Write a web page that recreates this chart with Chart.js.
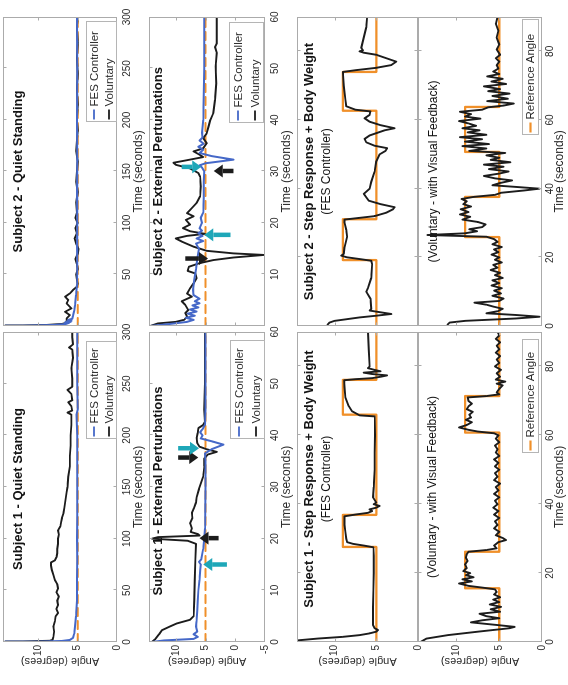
<!DOCTYPE html>
<html>
<head>
<meta charset="utf-8">
<script src="https://cdn.jsdelivr.net/npm/chart.js@4.4.1/dist/chart.umd.min.js"></script>
<style>
  html, body { margin: 0; padding: 0; background: #fff; overflow: hidden; width: 568px; height: 685px; }
  /* the figure is laid out landscape and turned a quarter turn counter-clockwise */
  #sheet { position: absolute; left: 0; top: 0; width: 685px; height: 568px;
           transform-origin: 0 0; transform: translate(0px, 685px) rotate(-90deg); }
  #sheet canvas { position: absolute; }
</style>
</head>
<body>
<div id="sheet"></div>
<script>
// ---------------- data: time (s) and ankle angle (degrees) ----------------

// Subject 1 - quiet standing
const s1QuietVolT = [0,0.5,1.2,2,5,10,15,20,25,28,32,36,40,44,48,52,56,60,65,70,74,77,79,82,86,90,95,100,104,108,112,116,120,125,130,135,140,145,150,160,170,180,190,200,210,220,222,224,228,232,234,240,244,247,255,265,275,283,285,288,295,300];
const s1QuietVol  = [14.2,12,8.6,8.2,8.1,8.0,8.1,7.9,7.8,7.5,7.7,7.5,7.6,7.4,7.7,7.5,7.6,7.9,8.1,8.3,8.4,8.4,7.9,7.7,7.6,7.6,7.5,7.5,7.4,7.5,7.2,7.1,7.0,6.8,6.7,6.6,6.5,6.4,6.3,6.2,6.0,6.0,5.9,5.9,5.8,5.8,6.3,5.7,5.8,6.2,5.7,5.8,6.3,5.7,5.7,5.8,5.6,5.7,6.1,5.6,5.7,5.7];
const s1QuietFesT = [0,0.4,1,2,4,8,15,25,40,60,80,100,120,150,180,200,220,225,250,275,300];
const s1QuietFes  = [14.2,10,7,6.0,5.6,5.45,5.35,5.2,5.1,5.1,5.05,5.1,5.05,5.05,5.05,5.05,5.15,5.0,5.05,5.05,5.05];

// Subject 2 - quiet standing
const s2QuietVolT = [0,0.5,1,2,3,5,7.4,10.6,13.8,17.1,21.9,25.2,28.4,31.6,34.9,38.1,41,45,50,55,60,65,70,75,80,85,90,95,100,105,110,120,130,140,150,160,170,180,190,200,215,230,245,260,275,290,300];
const s2QuietVol  = [14.2,12,9,7.0,6.5,6.4,6.4,6.0,6.6,5.8,6.4,6.2,6.6,6.0,5.6,5.1,5.0,5.1,5.2,5.0,5.1,5.3,5.0,4.9,5.2,5.4,5.1,5.3,5.0,5.3,5.1,5.2,5.0,5.2,5.1,5.0,5.2,5.1,5.0,5.1,5.0,5.1,5.0,5.1,5.0,5.1,5.0];
const s2QuietFesT = [0,0.3,1,2,3,3.5,4,4.5,5,6,7,10,15,20,30,40,60,80,100,130,160,200,250,300];
const s2QuietFes  = [14.2,12,8,6.5,6.1,6.6,5.9,6.4,5.8,6.2,5.7,5.6,5.45,5.35,5.2,5.1,5.05,5.1,5.05,5.1,5.05,5.1,5.05,5.1];

// Subject 1 - external perturbations
const s1ExtVolT = [0,0.5,1.5,2.3,3,3.6,4.3,5,8,12,16,19,19.6,20,20.3,20.6,20.9,21.3,22,23,24,25,26,27,28,29.6,31,32,34,35.5,36.3,36.8,37.3,37.8,38.5,39.5,40.5,41.4,42,42.6,45,50,55,60];
const s1ExtVol  = [14.0,13.5,12.8,12.3,11,9.8,7.6,7.0,6.9,6.8,6.7,6.6,8,14.0,13,6,6.3,7.5,7.3,7.6,7.2,7.3,6.9,6.6,6.5,6.1,5.7,5.4,5.2,5.2,4.6,3.1,4.8,6.0,6.4,6.5,6.3,6.2,5.4,5.1,5.2,5.1,5.1,5.1];
const s1ExtFesT = [0,0.3,0.6,1,1.5,2,3,4,6,8,10,12,14,15,15.5,16,18,20,22,25,30,35,36.5,37.3,38.2,38.8,39.4,40,40.6,41.2,42,45,50,60];
const s1ExtFes  = [14.0,12,7,6.3,7.0,6.4,6.6,6.5,6.4,6.3,6.2,6.0,5.9,5.8,6.1,5.7,5.4,5.2,5.1,5.05,5.0,5.0,5.1,4.0,2.0,3.8,5.8,5.5,5.9,5.5,5.1,5.0,5.0,5.0];

// Subject 2 - external perturbations
const s2ExtVolT = [0,0.5,0.8,1.2,1.8,2.5,3.1,4.1,4.8,5.7,6.3,7.3,8.3,9.3,10.2,10.7,11.5,12.2,12.8,13.3,13.8,14.1,14.6,15.4,16.4,17.0,17.5,17.9,18.4,19.0,19.7,20.6,21.3,21.9,22.9,23.9,25.2,27.1,29.0,29.7,30.6,31.3,31.7,32.2,32.8,33.2,33.9,34.5,35.5,36.5,37.4,38.7,40.0,41.3,43.9,47.1,50.4,53.0,54.2,54.9,56.8,60];
const s2ExtVol  = [14.3,13.0,10,8.6,8.1,8.4,7.9,8.4,9.0,7.3,8.1,7.6,7.0,6.5,6.7,8.0,7.8,6.0,3.7,0.3,-4.8,0.3,4.8,7.0,9.0,10.0,8.1,5.1,7.6,8.8,7.6,8.3,7.0,8.1,7.3,6.5,5.9,5.8,5.9,6.2,7.6,10.0,10.4,8.1,5.4,5.9,7.0,5.4,4.8,5.4,4.8,4.5,4.2,3.7,3.4,3.2,3.3,3.1,3.4,3.1,3.1,3.1];
const s2ExtFesT = [0,0.4,0.8,1.2,1.6,2.0,2.4,2.8,3.2,3.6,4.0,4.4,4.8,5.3,6,7,9,11,13,15,16,16.5,17,17.5,18,18.5,19,20,21,22,25,28,30,30.8,31.2,31.6,32.3,33.0,33.6,34.2,34.8,35.4,36.0,36.6,37.5,40,45,50,55,60];
const s2ExtFes  = [14.3,11,8.1,7.0,8.3,6.8,8.0,6.5,7.6,6.2,7.2,6.0,6.8,6.0,7.0,7.1,6.9,6.6,6.4,6.1,6.6,5.4,6.5,5.5,6.2,5.6,6.0,5.6,5.8,5.4,5.3,5.3,5.2,5.6,6.0,5.0,0.3,4.0,6.0,5.4,6.2,5.3,6.0,5.5,5.6,5.4,5.3,5.2,5.2,5.2];

// constant 5 degree reference used during standing trials
const quietRefT = [0, 300];
const extRefT   = [0, 60];
const standRef  = [5, 5];

// Subject 1 - step response, FES controller
const s1FesStepT = [0,0.5,1,1.5,2,2.5,3,3.5,4,5,10,15,20,25,27.5,28,28.5,29,30,32,34,36.5,37,37.5,38,38.5,39,39.5,40,40.5,42,45,50,55,60,65.5,65.8,67,68.5,71,74,76,76.3,76.6,77,77.4,77.8,78.2,78.6,79,79.5,80,85,90];
const s1FesStep  = [14.4,14.3,12,9,7,5.8,5.0,4.8,5.2,5.4,5.4,5.35,5.3,5.3,5.35,6.5,7.8,8.5,8.6,8.7,8.8,8.8,7.5,6,5.5,5.8,5.0,4.6,5.3,5.0,5.4,5.3,5.2,5.2,5.15,5.2,7.0,7.9,8.3,8.7,8.8,8.85,7.5,5.5,4.5,3.7,5.5,6.5,4.5,5.2,6.0,5.8,5.9,6.0];
const s1FesRefT  = [0,27.6,36.9,66.0,76.1,90];
const s1FesRef   = [5,9,5,9,5,5];

// Subject 1 - step response, voluntary with visual feedback
const s1VolStepT = [0,1,2,3,4,4.4,5,5.7,6.3,6.9,7.5,8.2,8.8,9.5,10.2,10.9,11.6,12.3,13,13.8,14.5,15.3,15.8,16.3,17.0,17.6,18.2,18.8,19.4,20,20.6,21.5,22.5,23.5,24.5,25.5,26.2,26.7,27.2,28,29,29.6,30.2,31,32,33,34,35,36,37,38,39,40,41,42,43,44,45,46,47,48,49,50,51,52,53,54,55,56,57,58,59,60,60.6,61.1,61.6,62.3,63,63.8,64.5,65.2,66,66.8,67.6,68.4,69.2,70,71,71.4,71.9,72.5,73.5,74.5,75,75.6,76.2,77,78,79,80,81,82,83,84,85,86,87,88,89,90];
const s1VolStep  = [14.2,13.5,11.0,7.5,3.8,3.2,5.5,8.3,7.0,5.0,6.5,7.3,4.9,6.0,4.8,6.1,5.0,5.7,4.9,5.6,5.3,5.5,7.0,8.6,9.7,8.2,9.3,8.0,8.9,8.4,9.2,8.8,9.0,8.7,8.9,8.8,8.6,6.5,5.3,5.6,5.1,4.2,4.6,5.4,5.0,5.6,5.2,5.5,5.0,5.6,5.1,5.7,5.2,5.5,5.0,5.6,5.1,5.4,4.9,5.6,5.2,5.5,5.0,5.5,5.1,5.6,5.0,5.4,5.2,5.5,5.0,5.4,5.1,5.6,7.5,8.6,9.7,8.8,8.2,8.9,8.3,8.5,8.1,8.8,8.6,8.2,8.6,8.7,6.5,5.0,5.3,5.0,4.6,5.3,4.3,5.4,4.9,5.3,4.8,5.5,5.0,5.3,4.9,5.4,5.0,5.3,4.9,5.4,5.0,5.2];
const s1VolRefT  = [0,15.6,26.2,60.8,71.4,90];
const s1VolRef   = [5,9,5,9,5,5];

// Subject 2 - step response, FES controller
const s2FesStepT = [0,0.5,1,1.5,2,2.5,3,3.5,4,4.5,5,8,10,11,14,18,19,19.5,20,20.5,21,23,26,28,30,31,31.5,32,33,34,34.6,35.5,36.5,37.5,38.5,40,42,45,48,50,51,51.8,52.5,53.5,54.5,55.5,57,57.6,58.5,59.5,60.5,61.5,62.5,63,64,66,70,74,74.5,75.2,76,77,78,79,79.6,80,80.3,81,84,87,90];
const s2FesStep  = [10.9,10.8,10.6,10.0,8.5,7.0,5.0,3.2,4.5,5.8,5.6,5.7,6.2,6.0,5.6,5.5,5.6,7.0,8.5,9.2,8.9,8.8,8.5,8.6,8.8,8.8,7.0,5.2,3.8,3.0,2.8,4.5,5.9,6.2,6.5,5.8,5.6,5.2,5.0,4.6,3.9,3.7,5.2,6.2,6.4,5.8,4.0,2.8,4.5,5.8,6.4,5.8,5.7,7.5,8.6,8.7,8.9,9.0,7.5,5.0,3.2,2.6,3.8,5.0,6.5,7.0,6.6,6.8,6.5,6.2,6.1];
const s2FesRefT  = [0,19.2,31.1,62.7,74.0,90];
const s2FesRef   = [5,9,5,9,5,5];

// Subject 2 - step response, voluntary with visual feedback
const s2VolStepT = [0,0.5,1,1.5,2.2,2.7,3.2,3.7,4.3,5,5.6,6.2,6.8,7.3,8,8.8,9.5,10.3,11,11.8,12.5,13.3,14,14.8,15.5,16.3,17,17.8,18.5,19.3,20,20.8,21.5,22.3,23,23.8,24.5,25.3,26,26.5,27,27.6,28.2,28.8,29.6,30.3,31,31.8,32.5,33.2,34,34.8,35.5,36.3,37,37.6,38.2,38.8,39.5,40,40.5,41,41.6,42.4,43,43.7,44.4,45,45.7,46.4,47,47.7,48.4,49,49.7,50.4,51,51.7,52.4,53,53.7,54.4,55,55.7,56.4,57,57.6,58.3,59,59.7,60.4,61,61.7,62.4,63,63.7,64.2,64.8,65.5,66.2,67,67.7,68.4,69,69.8,70.5,71.2,72,72.7,73.4,74.1,75,76,77,78,79,80.5,82,84,86,88,90];
const s2VolStep  = [11.1,11.0,10.8,9.0,3.0,0.3,3.0,6.5,5.2,4.6,5.6,6.5,7.9,5.0,4.5,5.8,4.8,5.6,4.7,5.9,5.0,5.8,4.6,5.5,4.9,6.0,5.2,5.7,4.7,5.5,5.0,5.9,5.1,5.6,4.7,5.8,5.2,5.6,6.5,13.4,9.0,7.6,8.5,7.0,6.6,7.5,9.3,8.4,9.6,8.6,9.5,8.3,9.2,8.8,9.4,8.0,5.5,4.8,2.0,0.3,3.0,5.8,5.0,3.5,5.5,6.8,5.0,3.9,6.2,4.5,6.8,3.7,6.0,5.0,6.5,4.3,8.5,6.5,9.3,6.2,9.0,7.0,9.6,6.5,8.7,7.3,9.3,7.7,8.6,9.7,7.2,9.0,8.3,9.6,7.0,6.3,4.5,3.3,6.4,4.0,5.8,3.8,6.3,4.9,6.8,4.2,5.9,4.6,6.4,5.0,5.7,5.1,5.3,5.0,5.4,4.9,5.3,5.0,5.3,5.1,5.4,5.2];
const s2VolRefT  = [0,25.9,37.6,50.7,63.8,90];
const s2VolRef   = [5,9,5,9,5,5];

// perturbation markers: time, tail angle, head angle
const s1ExtArrowT    = [15.0, 20.1, 35.7, 37.5];
const s1ExtArrowFrom = [1.4, 2.8, 9.6, 9.6];
const s1ExtArrowTo   = [5.4, 6.0, 6.2, 6.1];
const s1ExtArrowKind = ['cyan', 'black', 'black', 'cyan'];
const s2ExtArrowT    = [13.1, 17.7, 30.9, 30.1];
const s2ExtArrowFrom = [8.4, 0.8, 9.0, 0.3];
const s2ExtArrowTo   = [4.6, 5.2, 5.7, 3.6];
const s2ExtArrowKind = ['black', 'cyan', 'cyan', 'black'];

// axis ticks
const quietTimeTicks = [0, 50, 100, 150, 200, 250, 300];
const extTimeTicks   = [0, 10, 20, 30, 40, 50, 60];
const stepTimeTicks  = [0, 20, 40, 60, 80];
const angleTicks     = [-5, 0, 5, 10];

// ---------------- styling ----------------
const FONT = "'Liberation Sans', Arial, Helvetica, sans-serif";
Chart.defaults.font.family = FONT;
const COLORS = { fes: '#4568c8', vol: '#1c1c1c', ref: '#f0902a', cyan: '#1ea7b8', arrow: '#1c1c1c',
                 frame: '#ababab', text: '#2b2b2b' };

function pairs(ts, vs) { return ts.map((t, i) => ({ x: t, y: vs[i] })); }
const volLine  = (t, v) => ({ label: 'Voluntary', data: pairs(t, v), borderColor: COLORS.vol, borderWidth: 1.9, order: 2 });
const fesLine  = (t, v) => ({ label: 'FES Controller', data: pairs(t, v), borderColor: COLORS.fes, borderWidth: 2, order: 1 });
const refDash  = (t, v) => ({ label: 'Reference', data: pairs(t, v), borderColor: COLORS.ref, borderWidth: 2.1, borderDash: [8, 5], order: 3 });
const refSteps = (t, v) => ({ label: 'Reference Angle', data: pairs(t, v), borderColor: COLORS.ref, borderWidth: 2.3, stepped: true, order: 3 });

function arrows(ts, from, to, kind) {
  return ts.map((t, i) => ({ t, from: from[i], to: to[i], color: kind[i] === 'cyan' ? COLORS.cyan : COLORS.arrow }));
}

// frame, inward ticks, inset titles, legend boxes and arrow markers
function drawArrow(ctx, x0, y0, x1, y1, color) {
  const ang = Math.atan2(y1 - y0, x1 - x0);
  const headLen = 9, headHalf = 6.5;
  const bx = x1 - headLen * Math.cos(ang), by = y1 - headLen * Math.sin(ang);
  ctx.strokeStyle = color; ctx.fillStyle = color;
  ctx.lineWidth = 4.5; ctx.lineCap = 'butt'; ctx.setLineDash([]);
  ctx.beginPath(); ctx.moveTo(x0, y0); ctx.lineTo(bx, by); ctx.stroke();
  ctx.beginPath();
  ctx.moveTo(x1, y1);
  ctx.lineTo(bx + headHalf * Math.sin(ang), by - headHalf * Math.cos(ang));
  ctx.lineTo(bx - headHalf * Math.sin(ang), by + headHalf * Math.cos(ang));
  ctx.closePath(); ctx.fill();
}

const panelDecor = {
  id: 'panelDecor',
  afterDatasetsDraw(chart, args, opts) {
    const { ctx, chartArea: a, scales: { x, y } } = chart;
    ctx.save();
    (opts.arrows || []).forEach(ar => {
      const px = x.getPixelForValue(ar.t);
      drawArrow(ctx, px, y.getPixelForValue(ar.from), px, y.getPixelForValue(ar.to), ar.color);
    });

    // box and inward tick marks
    ctx.setLineDash([]);
    ctx.strokeStyle = COLORS.frame; ctx.lineWidth = 1;
    const L = Math.round(a.left) + 0.5, T = Math.round(a.top) + 0.5;
    const R = Math.round(a.right) - 0.5, B = Math.round(a.bottom) - 0.5;
    ctx.strokeRect(L, T, R - L, B - T);
    ctx.beginPath();
    x.ticks.forEach(tk => {
      const px = Math.round(x.getPixelForValue(tk.value)) + 0.5;
      if (px <= L + 1 || px >= R - 1) return;
      ctx.moveTo(px, B); ctx.lineTo(px, B - 3);
      ctx.moveTo(px, T); ctx.lineTo(px, T + 3);
    });
    y.ticks.forEach(tk => {
      const py = Math.round(y.getPixelForValue(tk.value)) + 0.5;
      if (py <= T + 1 || py >= B - 1) return;
      ctx.moveTo(L, py); ctx.lineTo(L + 3, py);
      ctx.moveTo(R, py); ctx.lineTo(R - 3, py);
    });
    ctx.stroke();

    // inset titles
    ctx.textAlign = 'center'; ctx.textBaseline = 'middle';
    (opts.texts || []).forEach(tx => {
      ctx.font = tx.font; ctx.fillStyle = '#141414';
      ctx.fillText(tx.text, (a.left + a.right) / 2 + (tx.dx || 0), a.top + tx.dy);
    });

    // legend box
    const lg = opts.legend;
    if (lg) {
      const bx = Math.round(a.right - lg.right - lg.w) + 0.5;
      const by = Math.round(a.bottom - lg.bottom - lg.h) + 0.5;
      ctx.fillStyle = '#fff';
      ctx.fillRect(bx, by, lg.w, lg.h);
      ctx.strokeStyle = '#b5b5b5'; ctx.lineWidth = 1;
      ctx.strokeRect(bx, by, lg.w, lg.h);
      const n = lg.items.length;
      ctx.textAlign = 'left'; ctx.textBaseline = 'middle';
      ctx.font = '11.5px ' + FONT;
      lg.items.forEach((it, i) => {
        const cy = by + lg.h * (2 * i + 1) / (2 * n);
        ctx.strokeStyle = it.color; ctx.lineWidth = it.width || 1.8;
        ctx.beginPath(); ctx.moveTo(bx + 2, cy); ctx.lineTo(bx + 12, cy); ctx.stroke();
        ctx.fillStyle = COLORS.text;
        ctx.fillText(it.label, bx + 15, cy + 0.5);
      });
    }
    ctx.restore();
  }
};

// ---------------- layout (landscape coordinates before the quarter turn) ----------------
const COLS = { s1: { left: 43, width: 310, pad: 43, axisTitle: true },
               s2: { left: 359, width: 309, pad: 10, axisTitle: false } };
const ROWS = {
  quiet: { top: 3,   height: 114, below: 34, yMin: 0,  yMax: 14.5, xMax: 300, ticks: quietTimeTicks, xLabels: true,  labelPad: 4, titleGap: 21.5 },
  ext:   { top: 149, height: 116, below: 34, yMin: -5, yMax: 14.5, xMax: 60,  ticks: extTimeTicks,   xLabels: true,  labelPad: 4, titleGap: 22 },
  fes:   { top: 297, height: 121, below: 14, yMin: 0,  yMax: 14.5, xMax: 90,  ticks: stepTimeTicks,  xLabels: false, labelPad: 4, titleGap: 0 },
  vol:   { top: 418, height: 124, below: 30, yMin: 0,  yMax: 14.5, xMax: 90,  ticks: stepTimeTicks,  xLabels: true,  labelPad: 2, titleGap: 18 }
};
const PAD_TOP = 14, PAD_RIGHT = 14;

const sheet = document.getElementById('sheet');

function panel(colKey, rowKey, datasets, decor, hideZeroTime) {
  const col = COLS[colKey], row = ROWS[rowKey];
  const W = col.pad + col.width + PAD_RIGHT;
  const H = PAD_TOP + row.height + row.below;
  const cv = document.createElement('canvas');
  cv.width = W; cv.height = H;
  cv.style.width = W + 'px'; cv.style.height = H + 'px';
  cv.style.left = (col.left - col.pad) + 'px';
  cv.style.top = (row.top - PAD_TOP) + 'px';
  sheet.appendChild(cv);

  const timeTicks = row.ticks, angles = angleTicks.filter(v => v >= row.yMin && v <= row.yMax);
  new Chart(cv, {
    type: 'line',
    data: { datasets },
    options: {
      responsive: false, animation: false, devicePixelRatio: 1,
      layout: { padding: { left: 0, right: PAD_RIGHT, top: PAD_TOP, bottom: 0 } },
      elements: { point: { radius: 0 }, line: { tension: 0, borderCapStyle: 'round', borderJoinStyle: 'round' } },
      plugins: { legend: { display: false }, tooltip: { enabled: false }, panelDecor: decor },
      scales: {
        x: {
          type: 'linear', position: 'bottom', min: 0, max: row.xMax,
          grid: { display: false, drawTicks: false }, border: { display: false },
          afterBuildTicks: s => { s.ticks = timeTicks.map(v => ({ value: v })); },
          ticks: {
            display: row.xLabels, autoSkip: false, maxRotation: 0, padding: row.labelPad,
            color: COLORS.text, font: { size: 10 },
            callback: v => (hideZeroTime && v === 0) ? '' : String(v)
          },
          title: {
            display: row.xLabels, text: 'Time (seconds)', color: COLORS.text, font: { size: 12 },
            padding: { top: 0, bottom: Math.max(0, row.below - row.titleGap - 7.2) }
          },
          afterFit: s => { s.height = row.below; }
        },
        y: {
          type: 'linear', position: 'left', min: row.yMin, max: row.yMax,
          grid: { display: false, drawTicks: false }, border: { display: false },
          afterBuildTicks: s => { s.ticks = angles.map(v => ({ value: v })); },
          ticks: { display: col.axisTitle, padding: 3, color: COLORS.text, font: { size: 10 } },
          title: {
            display: col.axisTitle, text: 'Angle (degrees)', color: COLORS.text, font: { size: 11 },
            padding: { top: 17.4, bottom: 0 }
          },
          afterFit: s => { s.width = col.pad; }
        }
      }
    },
    plugins: [panelDecor]
  });
}

const BOLD = 'bold 13px ' + FONT, SUB = '12px ' + FONT;
const standLegend = [{ label: 'FES Controller', color: COLORS.fes }, { label: 'Voluntary', color: COLORS.vol }];
const refLegend = [{ label: 'Reference Angle', color: COLORS.ref, width: 2.2 }];

// Subject 1 column
panel('s1', 'quiet',
  [fesLine(s1QuietFesT, s1QuietFes), volLine(s1QuietVolT, s1QuietVol), refDash(quietRefT, standRef)],
  { texts: [{ text: 'Subject 1 - Quiet Standing', font: BOLD, dy: 15.5, dx: -2 }],
    legend: { right: 10, bottom: 1, w: 97, h: 30, items: standLegend } });
panel('s1', 'ext',
  [fesLine(s1ExtFesT, s1ExtFes), volLine(s1ExtVolT, s1ExtVol), refDash(extRefT, standRef)],
  { texts: [{ text: 'Subject 1 - External Perturbations', font: BOLD, dy: 9.5, dx: -4 }],
    legend: { right: 9, bottom: 1, w: 98, h: 34, items: standLegend },
    arrows: arrows(s1ExtArrowT, s1ExtArrowFrom, s1ExtArrowTo, s1ExtArrowKind) });
panel('s1', 'fes',
  [volLine(s1FesStepT, s1FesStep), refSteps(s1FesRefT, s1FesRef)],
  { texts: [{ text: 'Subject 1 - Step Response + Body Weight', font: BOLD, dy: 12.5, dx: 8 },
            { text: '(FES Controller)', font: SUB, dy: 29.5, dx: 8 }] });
panel('s1', 'vol',
  [volLine(s1VolStepT, s1VolStep), refSteps(s1VolRefT, s1VolRef)],
  { texts: [{ text: '(Voluntary - with Visual Feedback)', font: SUB, dy: 15 }],
    legend: { right: 8, bottom: 4, w: 113, h: 16, items: refLegend } });

// Subject 2 column
panel('s2', 'quiet',
  [fesLine(s2QuietFesT, s2QuietFes), volLine(s2QuietVolT, s2QuietVol), refDash(quietRefT, standRef)],
  { texts: [{ text: 'Subject 2 - Quiet Standing', font: BOLD, dy: 15.5 }],
    legend: { right: 5, bottom: 1, w: 100, h: 30, items: standLegend } }, true);
panel('s2', 'ext',
  [fesLine(s2ExtFesT, s2ExtFes), volLine(s2ExtVolT, s2ExtVol), refDash(extRefT, standRef)],
  { texts: [{ text: 'Subject 2 - External Perturbations', font: BOLD, dy: 9.5 }],
    legend: { right: 6, bottom: 2, w: 100, h: 34, items: standLegend },
    arrows: arrows(s2ExtArrowT, s2ExtArrowFrom, s2ExtArrowTo, s2ExtArrowKind) }, true);
panel('s2', 'fes',
  [volLine(s2FesStepT, s2FesStep), refSteps(s2FesRefT, s2FesRef)],
  { texts: [{ text: 'Subject 2 - Step Response + Body Weight', font: BOLD, dy: 12.5 },
            { text: '(FES Controller)', font: SUB, dy: 29.5 }] });
panel('s2', 'vol',
  [volLine(s2VolStepT, s2VolStep), refSteps(s2VolRefT, s2VolRef)],
  { texts: [{ text: '(Voluntary - with Visual Feedback)', font: SUB, dy: 16 }],
    legend: { right: 3, bottom: 4, w: 115, h: 16, items: refLegend } });
</script>
</body>
</html>
